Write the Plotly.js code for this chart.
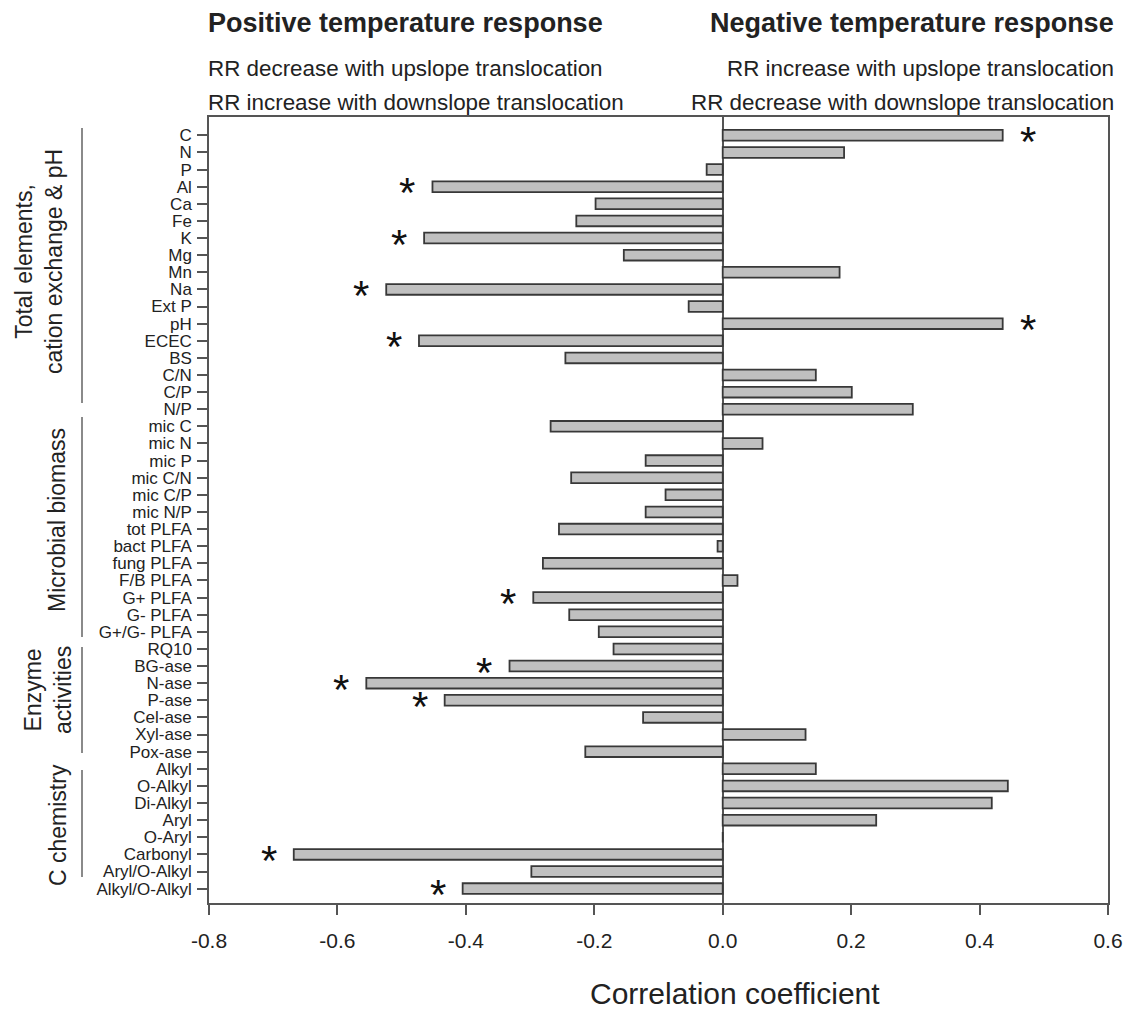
<!DOCTYPE html>
<html>
<head>
<meta charset="utf-8">
<script src="https://cdn.plot.ly/plotly-3.0.1.min.js"></script>
<style>
  html, body { margin: 0; padding: 0; background: #fff; }
  #chart { width: 1130px; height: 1012px; }
</style>
</head>
<body>
<div id="chart"></div>
<script>
// ---- data ----
const categories = ["C","N","P","Al","Ca","Fe","K","Mg","Mn","Na","Ext P","pH","ECEC","BS","C/N","C/P","N/P",
  "mic C","mic N","mic P","mic C/N","mic C/P","mic N/P","tot PLFA","bact PLFA","fung PLFA","F/B PLFA","G+ PLFA","G- PLFA","G+/G- PLFA",
  "RQ10","BG-ase","N-ase","P-ase","Cel-ase","Xyl-ase","Pox-ase",
  "Alkyl","O-Alkyl","Di-Alkyl","Aryl","O-Aryl","Carbonyl","Aryl/O-Alkyl","Alkyl/O-Alkyl"];
const correlation = [0.436,0.189,-0.025,-0.452,-0.198,-0.228,-0.465,-0.154,0.182,-0.524,-0.053,0.436,-0.473,-0.245,0.145,0.201,0.296,
  -0.268,0.062,-0.120,-0.236,-0.089,-0.120,-0.255,-0.008,-0.280,0.023,-0.295,-0.239,-0.193,
  -0.170,-0.332,-0.555,-0.433,-0.124,0.129,-0.214,
  0.145,0.444,0.419,0.239,0.000,-0.668,-0.298,-0.405];
const significant = ["C","Al","K","Na","pH","ECEC","G+ PLFA","BG-ase","N-ase","P-ase","Carbonyl","Alkyl/O-Alkyl"];
const xTickVals = [-0.8,-0.6,-0.4,-0.2,0.0,0.2,0.4,0.6];
const xTickText = ["-0.8","-0.6","-0.4","-0.2","0.0","0.2","0.4","0.6"];
const groupLabels = ["Total elements,<br>cation exchange & pH","Microbial biomass","Enzyme<br>activities","C chemistry"];
const xTitle = "Correlation coefficient";

// ---- layout helpers (pixel -> paper) ----
const L = 209, R = 1108, T = 117, B = 903;
const W = 1130, H = 1012;
const px = v => (v - L) / (R - L);
const py = v => (B - v) / (B - T);

const FONT = "Liberation Sans, Arial, Helvetica, sans-serif";
const TXT = "#222222";

const trace = {
  type: "bar",
  orientation: "h",
  y: categories,
  x: correlation,
  width: 0.625,
  marker: { color: "#c0c0c0", line: { color: "#383838", width: 1.8 } },
  hoverinfo: "x+y"
};

const annotations = [];
// significance stars
categories.forEach((c, i) => {
  if (significant.includes(c)) {
    const v = correlation[i];
    annotations.push({
      xref: "x", yref: "y",
      x: v + (v < 0 ? -0.039 : 0.039), y: c,
      text: "*", showarrow: false,
      xanchor: "center", yanchor: "middle", yshift: -6,
      font: { family: FONT, size: 42, color: "#111" }
    });
  }
});

// headers
const headers = [
  { text: "<b>Positive temperature response</b>", x: px(206), y: py(23), xa: "left", size: 27 },
  { text: "RR decrease with upslope translocation", x: px(206), y: py(69), xa: "left", size: 22.4 },
  { text: "RR increase with downslope translocation", x: px(206), y: py(102), xa: "left", size: 22.4 },
  { text: "<b>Negative temperature response</b>", x: px(1116), y: py(23), xa: "right", size: 27 },
  { text: "RR increase with upslope translocation", x: px(1116), y: py(69), xa: "right", size: 22.4 },
  { text: "RR decrease with downslope translocation", x: px(1116), y: py(102), xa: "right", size: 22.4 }
];
headers.forEach(h => annotations.push({
  xref: "paper", yref: "paper", x: h.x, y: h.y, text: h.text, showarrow: false,
  xanchor: h.xa, yanchor: "middle", font: { family: FONT, size: h.size, color: TXT }
}));

// x-axis title (placed off-centre as in the reference)
annotations.push({
  xref: "paper", yref: "paper", x: px(735), y: py(993), text: xTitle, showarrow: false,
  xanchor: "center", yanchor: "middle", font: { family: FONT, size: 30, color: TXT }
});

// group labels (rotated)
const groupPos = [[39, 262], [57, 520], [48, 690], [58, 825]];
groupLabels.forEach((g, i) => annotations.push({
  xref: "paper", yref: "paper", x: px(groupPos[i][0]), y: py(groupPos[i][1]),
  text: g, showarrow: false, textangle: -90, xanchor: "center", yanchor: "middle",
  font: { family: FONT, size: 23, color: TXT }
}));

// group separator lines
const groupLines = [[128, 403], [417, 637], [647, 753], [770, 877]];
const shapes = groupLines.map(g => ({
  type: "line", xref: "paper", yref: "paper",
  x0: px(82), x1: px(82), y0: py(g[0]), y1: py(g[1]),
  line: { color: "#8a8a8a", width: 2 }
}));

const layout = {
  width: W, height: H,
  margin: { l: L, r: W - R, t: T, b: H - B, pad: 0 },
  paper_bgcolor: "#ffffff", plot_bgcolor: "#ffffff",
  showlegend: false,
  font: { family: FONT, color: TXT },
  xaxis: {
    range: [-0.8, 0.6],
    tickmode: "array", tickvals: xTickVals, ticktext: xTickText,
    ticks: "outside", ticklen: 10, tickwidth: 1.5, tickcolor: "#555",
    showgrid: false,
    zeroline: true, zerolinecolor: "#555", zerolinewidth: 1.5,
    showline: true, mirror: true, linecolor: "#555", linewidth: 1.5,
    tickfont: { family: FONT, size: 21, color: TXT },
    ticklabelstandoff: 8,
    automargin: false, fixedrange: true
  },
  yaxis: {
    type: "category",
    range: [44.84, -1.07],
    tickmode: "array", tickvals: categories, ticktext: categories,
    ticks: "outside", ticklen: 10, tickwidth: 1.5, tickcolor: "#555",
    showgrid: false, zeroline: false,
    showline: true, mirror: true, linecolor: "#555", linewidth: 1.5,
    tickfont: { family: FONT, size: 17, color: TXT },
    ticklabelstandoff: 2,
    automargin: false, fixedrange: true
  },
  annotations: annotations,
  shapes: shapes
};

Plotly.newPlot("chart", [trace], layout, { displayModeBar: false, responsive: false });
</script>
</body>
</html>
